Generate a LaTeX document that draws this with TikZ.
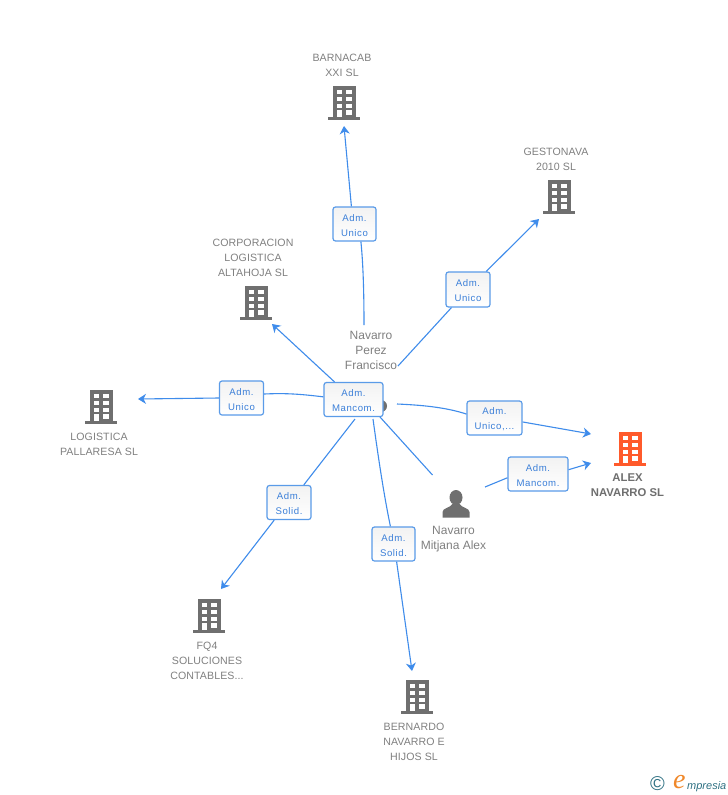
\documentclass[tikz,border=0pt]{standalone}
\usepackage{fontspec}
\setmainfont{Liberation Sans}
\newfontfamily\boxfont[LetterSpace=6]{Liberation Sans}
\newfontfamily\compfont[LetterSpace=0.8]{Liberation Sans}
\newfontfamily\logoserif{Liberation Serif}
\usetikzlibrary{arrows.meta}
\definecolor{linkblue}{HTML}{3F8CEB}
\definecolor{boxtext}{HTML}{3B7FD8}
\definecolor{boxedge}{HTML}{5A9BE8}
\definecolor{icongrey}{HTML}{6F6F6F}
\definecolor{textgrey}{HTML}{808080}
\definecolor{alexorange}{HTML}{FF5A2B}
\definecolor{logoteal}{HTML}{2F7183}
\definecolor{logoorange}{HTML}{F0882A}
\newcommand\boxup{\rule{0pt}{9.2pt}}
\tikzset{
  conn/.style={draw=linkblue,line width=1.1pt},
  arr/.style={conn,-{Stealth[length=8pt,width=10pt,inset=2.5pt]}},
  rolebox/.style={draw=boxedge,line width=1.2pt,rounded corners=2.5pt,top color=black!5,bottom color=white,
    inner sep=0pt,align=center,text=boxtext,font=\boxfont\fontsize{9.6}{15}\selectfont},
  complabel/.style={inner sep=0pt,align=center,text=textgrey,font=\compfont\fontsize{10.6}{15}\selectfont},
  perslabel/.style={inner sep=0pt,align=center,text=textgrey,font=\fontsize{12}{15}\selectfont},
  bldg/.pic={
    \fill[pic actions] (-11.5,-17) rectangle (11.5,14);
    \fill[pic actions] (-16,14) rectangle (16,17);
    \fill[white] (-7.5,-13) rectangle (-2.5,-9);
    \fill[white] (2,-13) rectangle (7.5,-9);
    \fill[white] (-7.5,-6) rectangle (-2.5,-2);
    \fill[white] (2,-6) rectangle (7.5,-2);
    \fill[white] (-7.5,0.5) rectangle (-2.5,5);
    \fill[white] (2,0.5) rectangle (7.5,5);
    \fill[white] (-7.5,7) rectangle (-2.5,14);
    \fill[white] (2,7) rectangle (7.5,11.5);
  },
  persona/.pic={
    \fill[pic actions] (0,-6.5) ellipse [x radius=6.5,y radius=7.5];
    \fill[pic actions] (-13.5,13.5) -- (-13.5,8) .. controls (-13.5,4) and (-6,4) .. (-3.5,0)
      -- (3.5,0) .. controls (6,4) and (13.5,4) .. (13.5,8) -- (13.5,13.5) -- cycle;
  }
}
\begin{document}
\begin{tikzpicture}[x=1pt,y=-1pt]
\useasboundingbox (0,0) rectangle (728,795);
\fill[white] (0,0) rectangle (728,795);

% icons
\pic[fill=icongrey] at (344,103) {bldg};
\pic[fill=icongrey] at (559,197) {bldg};
\pic[fill=icongrey] at (256,303) {bldg};
\pic[fill=icongrey] at (101,407) {bldg};
\pic[fill=icongrey] at (209,616) {bldg};
\pic[fill=icongrey] at (417,697) {bldg};
\pic[fill=alexorange] at (630,449) {bldg};
\pic[fill=icongrey] at (456,504) {persona};
\fill[icongrey] (381,406) circle [radius=6];

% labels
\node[complabel] (barnacab) at (342,65) {BARNACAB\\XXI SL};
\node[complabel] (gestonava) at (556,159) {GESTONAVA\\2010 SL};
\node[complabel] (corporacion) at (253,257.5) {CORPORACION\\LOGISTICA\\ALTAHOJA SL};
\node[complabel] (logistica) at (99,444) {LOGISTICA\\PALLARESA SL};
\node[complabel] (fq4) at (207,660.5) {FQ4\\SOLUCIONES\\CONTABLES...};
\node[complabel] (bernardo) at (414,741.5) {BERNARDO\\NAVARRO E\\HIJOS SL};
\node[inner sep=0pt,align=center,text=icongrey,font=\bfseries\fontsize{11.3}{15}\selectfont] (alex) at (627.5,485.5) {ALEX\\NAVARRO SL};
\node[perslabel] (perez) at (371,350) {Navarro\\Perez\\Francisco};
\node[perslabel] (mitjana) at (453.5,539) {Navarro\\Mitjana Alex};

% role boxes
\node[rolebox,minimum width=43pt,minimum height=34pt] (b1) at (354.5,224) {\boxup Adm.\\Unico};
\node[rolebox,minimum width=44pt,minimum height=35pt] (b2) at (468,289.5) {\boxup Adm.\\Unico};
\node[rolebox,minimum width=44pt,minimum height=34pt] (b4) at (241.5,398) {\boxup Adm.\\Unico};
\node[rolebox,minimum width=59pt,minimum height=34pt] (m) at (353.5,399.5) {\boxup Adm.\\Mancom.};
\node[rolebox,minimum width=44pt,minimum height=34pt] (b5) at (289,502.5) {\boxup Adm.\\Solid.};
\node[rolebox,minimum width=43pt,minimum height=34pt] (b6) at (393.5,544) {\boxup Adm.\\Solid.};
\node[rolebox,minimum width=55pt,minimum height=34pt] (b7) at (494.5,418) {\boxup Adm.\\Unico,...};
\node[rolebox,minimum width=60pt,minimum height=34pt] (b8) at (538,474) {\boxup Adm.\\Mancom.};

% free ends
\coordinate (s1) at (364,325);
\coordinate (e1) at (344,126);
\coordinate (s2) at (398,366);
\coordinate (e2) at (539,219);
\coordinate (e3) at (272,324);
\coordinate (e4) at (138,399);
\coordinate (s5) at (355,419);
\coordinate (e5) at (221,589);
\coordinate (s6) at (373,419);
\coordinate (e6) at (412,671);
\coordinate (s7) at (397,404);
\coordinate (e7) at (591,434);
\coordinate (s8) at (485,487);
\coordinate (e8) at (591,463);
\coordinate (s9) at (380,417);
\coordinate (e9) at (432.5,475);

% connectors
\draw[conn] (s1) .. controls (364,290) and (363,262) .. (b1.-70);
\draw[arr] (b1.100) -- (e1);
\draw[conn] (s2) -- (b2);
\draw[arr] (b2) -- (e2);
\draw[arr] (m) -- (e3);
\draw[conn] (m.175) .. controls (300,394) and (285,393) .. (b4.10);
\draw[arr] (b4.west) -- (e4);
\draw[conn] (s5) -- (b5.50);
\draw[arr] (b5.230) -- (e5);
\draw[conn] (s6) .. controls (380,470) and (385,500) .. (b6.100);
\draw[arr] (b6.-80) -- (e6);
\draw[conn] (s7) .. controls (420,405) and (445,407) .. (b7.172);
\draw[arr] (b7.-8) -- (e7);
\draw[conn] (s8) -- (b8.187);
\draw[arr] (b8.8) -- (e8);
\draw[conn] (s9) -- (e9);

% logo
\node[inner sep=0pt,text=logoteal,font=\fontsize{20}{20}\selectfont] (copyr) at (657.5,784) {\textcopyright};
\node[inner sep=0pt,anchor=base west,text=logoorange,font=\logoserif\itshape\fontsize{28}{28}\selectfont] (elogo) at (673,788.5) {e};
\node[inner sep=0pt,anchor=base west,text=logoteal,font=\itshape\fontsize{11}{15}\selectfont] (mpresia) at (687,789) {mpresia};
\end{tikzpicture}
\end{document}
